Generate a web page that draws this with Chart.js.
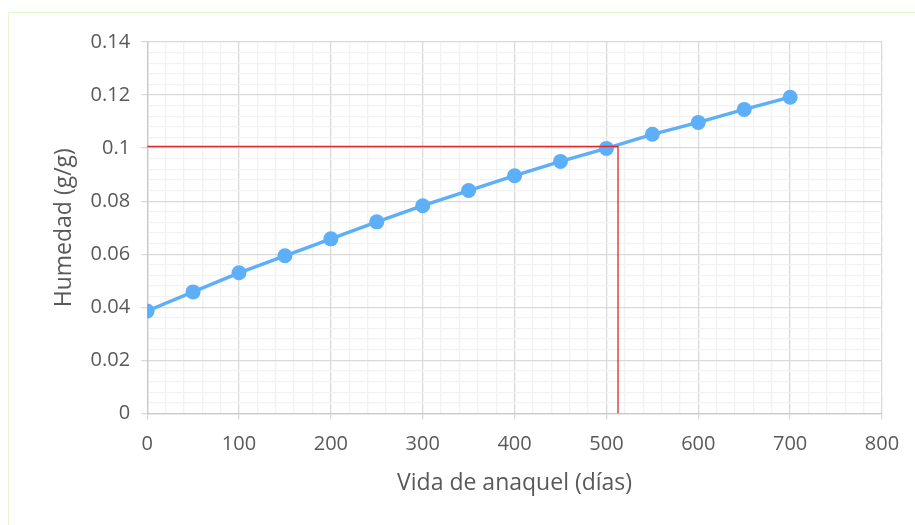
<!DOCTYPE html>
<html>
<head>
<meta charset="utf-8">
<script src="https://cdn.jsdelivr.net/npm/chart.js@4/dist/chart.umd.min.js"></script>
<style>
  html, body { margin: 0; padding: 0; background: #fff; }
  #wrap { position: relative; width: 915px; height: 525px; }
  #frame { position: absolute; left: 8px; top: 12px; width: 920px; height: 530px; border: 1px solid #e3f7d3; box-sizing: border-box; }
  #chart1 { position: absolute; left: 0; top: 0; }
</style>
</head>
<body>
<div id="wrap">
  <div id="frame"></div>
  <canvas id="chart1" width="915" height="525"></canvas>
</div>
<script>
const dias = [0, 50, 100, 150, 200, 250, 300, 350, 400, 450, 500, 550, 600, 650, 700];
const humedad = [0.0386, 0.0458, 0.053, 0.0594, 0.0658, 0.0722, 0.0783, 0.084, 0.0896, 0.095, 0.0999, 0.1052, 0.1097, 0.1146, 0.1192];
// línea de referencia (humedad crítica)
const humedadCritica = 0.1006;
const vidaUtil = 512.6;

const colorSerie = "#5DAFF9";
const colorTexto = "#595959";
const fuente = "Open Sans";

const puntos = dias.map((d, i) => ({ x: d, y: humedad[i] }));
const referencia = [
  { x: 0, y: humedadCritica },
  { x: vidaUtil, y: humedadCritica },
  { x: vidaUtil, y: 0 },
];

const esMayorX = (v) => Math.round(v) % 100 === 0;
const esMayorY = (v) => Math.round(v / 0.004) % 5 === 0;

const ctx = document.getElementById("chart1");

new Chart(ctx, {
  type: "scatter",
  data: {
    datasets: [
      {
        data: referencia,
        showLine: true,
        borderColor: "#dc2a2c",
        borderWidth: 1.3,
        pointRadius: 0,
        fill: false,
      },
      {
        data: puntos,
        showLine: true,
        borderColor: colorSerie,
        backgroundColor: colorSerie,
        borderWidth: 3.5,
        pointRadius: 7.5,
        pointHoverRadius: 7.5,
        pointBorderWidth: 0,
      },
    ],
  },
  options: {
    responsive: false,
    animation: false,
    layout: { padding: { left: 47, right: 33, top: 42, bottom: 24 } },
    plugins: {
      legend: { display: false },
      tooltip: { enabled: false },
    },
    scales: {
      x: {
        type: "linear",
        min: 0,
        max: 800,
        ticks: {
          stepSize: 20,
          autoSkip: false,
          maxRotation: 0,
          color: colorTexto,
          font: { family: fuente, size: 20 },
          padding: 13,
          callback: (v) => (esMayorX(v) ? v : ""),
        },
        grid: {
          color: (c) => (esMayorX(c.tick.value) ? "#d9d9d9" : "#f2f2f2"),
          tickColor: (c) => (esMayorX(c.tick.value) ? "#d9d9d9" : "rgba(0,0,0,0)"),
          tickLength: 6,
          lineWidth: 1.3,
        },
        border: { color: "#c8c8c8", width: 1.3 },
        title: {
          display: true,
          text: "Vida de anaquel (días)",
          color: colorTexto,
          font: { family: fuente, size: 23 },
          padding: { top: 0 },
        },
      },
      y: {
        min: 0,
        max: 0.14,
        ticks: {
          stepSize: 0.004,
          autoSkip: false,
          color: colorTexto,
          font: { family: fuente, size: 20 },
          padding: 11,
          callback: (v) => (esMayorY(v) ? String(Math.round(v * 100) / 100) : ""),
        },
        grid: {
          color: (c) => (esMayorY(c.tick.value) ? "#d9d9d9" : "#f2f2f2"),
          tickColor: (c) => (esMayorY(c.tick.value) ? "#d9d9d9" : "rgba(0,0,0,0)"),
          tickLength: 6,
          lineWidth: 1.3,
        },
        border: { color: "#c8c8c8", width: 1.3 },
        title: {
          display: true,
          text: "Humedad (g/g)",
          color: colorTexto,
          font: { family: fuente, size: 23 },
          padding: { bottom: 1 },
        },
      },
    },
  },
});
</script>
</body>
</html>
